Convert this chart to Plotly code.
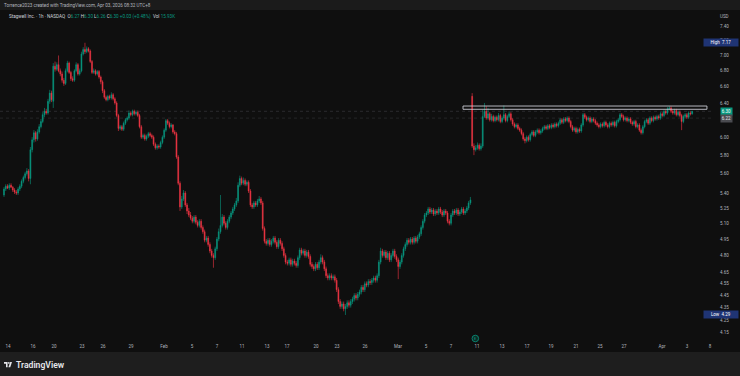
import math
import plotly.graph_objects as go

# ---------------- data (1h candles, Stagwell Inc., NASDAQ) ----------------
opens = [
    5.38, 5.44, 5.47, 5.45, 5.48, 5.46, 5.43,
    5.41, 5.40, 5.44, 5.47, 5.52, 5.56, 5.60,
    5.63, 5.55, 5.86, 5.97, 6.05, 5.98, 6.06,
    6.12, 6.18, 6.26, 6.30, 6.28, 6.42, 6.52,
    6.42, 6.86, 6.82, 6.88, 6.80, 6.76, 6.68,
    6.64, 6.80, 6.90, 6.78, 6.70, 6.68, 6.80,
    6.88, 6.76, 6.80, 7.02, 7.08, 7.05, 7.09,
    7.06, 6.92, 6.78, 6.80, 6.76, 6.79, 6.72,
    6.66, 6.55, 6.47, 6.44, 6.48, 6.46, 6.50,
    6.45, 6.40, 6.25, 6.10, 6.12, 6.09, 6.16,
    6.20, 6.22, 6.28, 6.26, 6.30, 6.27, 6.29,
    6.25, 6.12, 6.00, 6.02, 5.98, 6.01, 6.04,
    6.02, 6.00, 5.92, 5.88, 5.90, 5.89, 5.94,
    6.00, 6.08, 6.19, 6.16, 6.12, 6.14, 6.06,
    6.04, 5.78, 5.50, 5.26, 5.34, 5.40, 5.28,
    5.22, 5.18, 5.15, 5.12, 5.16, 5.11, 5.08,
    5.12, 5.06, 5.02, 4.94, 4.96, 4.90, 4.84,
    4.80, 4.78, 4.86, 4.95, 5.02, 5.08, 5.16,
    5.10, 5.06, 5.12, 5.16, 5.20, 5.24, 5.28,
    5.32, 5.48, 5.55, 5.50, 5.53, 5.49, 5.51,
    5.42, 5.28, 5.26, 5.30, 5.28, 5.32, 5.34,
    5.30, 5.05, 4.93, 4.91, 4.94, 4.90, 4.93,
    4.96, 4.92, 4.88, 4.94, 4.91, 4.86, 4.80,
    4.74, 4.73, 4.76, 4.72, 4.75, 4.73, 4.71,
    4.78, 4.85, 4.82, 4.84, 4.80, 4.83, 4.79,
    4.72, 4.70, 4.68, 4.72, 4.69, 4.74, 4.78,
    4.74, 4.68, 4.62, 4.60, 4.62, 4.60, 4.61,
    4.58, 4.50, 4.40, 4.36, 4.38, 4.34, 4.36,
    4.39, 4.37, 4.40, 4.42, 4.45, 4.43, 4.46,
    4.48, 4.52, 4.50, 4.55, 4.54, 4.57, 4.56,
    4.58, 4.60, 4.58, 4.62, 4.74, 4.84, 4.80,
    4.83, 4.78, 4.82, 4.76, 4.80, 4.84, 4.79,
    4.76, 4.70, 4.74, 4.80, 4.86, 4.90, 4.94,
    4.92, 4.95, 4.92, 4.96, 4.93, 4.97, 5.00,
    5.06, 5.12, 5.18, 5.20, 5.24, 5.21, 5.23,
    5.19, 5.22, 5.20, 5.24, 5.21, 5.18, 5.22,
    5.20, 5.12, 5.10, 5.18, 5.22, 5.20, 5.23,
    5.19, 5.21, 5.24, 5.20, 5.22, 5.25, 5.30,
    6.48, 5.90, 5.86, 5.88, 5.91, 5.87, 5.90,
    6.24, 6.30, 6.22, 6.27, 6.20, 6.24, 6.19,
    6.23, 6.20, 6.25, 6.18, 6.22, 6.26, 6.19,
    6.24, 6.27, 6.20, 6.15, 6.12, 6.14, 6.10,
    6.08, 6.04, 5.98, 5.96, 6.00, 5.97, 6.03,
    6.06, 6.02, 6.06, 6.08, 6.05, 6.07, 6.10,
    6.12, 6.10, 6.13, 6.11, 6.14, 6.12, 6.15,
    6.13, 6.16, 6.20, 6.17, 6.21, 6.19, 6.22,
    6.18, 6.12, 6.08, 6.10, 6.06, 6.09, 6.07,
    6.14, 6.26, 6.23, 6.20, 6.22, 6.18, 6.21,
    6.19, 6.16, 6.14, 6.12, 6.15, 6.13, 6.17,
    6.14, 6.12, 6.16, 6.14, 6.17, 6.13, 6.18,
    6.20, 6.26, 6.24, 6.20, 6.22, 6.19, 6.21,
    6.17, 6.15, 6.18, 6.12, 6.14, 6.08, 6.05,
    6.12, 6.18, 6.20, 6.16, 6.22, 6.19, 6.23,
    6.21, 6.24, 6.22, 6.27, 6.25, 6.30, 6.28,
    6.33, 6.34, 6.30, 6.28, 6.31, 6.26, 6.29,
    6.25, 6.18, 6.24, 6.26, 6.23, 6.28, 6.27,
]
highs = [
    5.46, 5.49, 5.49, 5.50, 5.50, 5.47, 5.45,
    5.43, 5.46, 5.49, 5.54, 5.58, 5.62, 5.66,
    5.65, 5.89, 6.00, 6.08, 6.07, 6.09, 6.15,
    6.21, 6.29, 6.34, 6.33, 6.45, 6.56, 6.55,
    6.90, 6.92, 6.91, 7.00, 6.83, 6.79, 6.71,
    6.83, 6.93, 6.92, 6.80, 6.73, 6.82, 6.91,
    6.90, 6.83, 7.05, 7.11, 7.17, 7.12, 7.11,
    7.08, 6.94, 6.83, 6.82, 6.81, 6.81, 6.74,
    6.68, 6.57, 6.49, 6.50, 6.50, 6.53, 6.52,
    6.47, 6.42, 6.27, 6.14, 6.14, 6.18, 6.22,
    6.24, 6.31, 6.30, 6.32, 6.32, 6.31, 6.31,
    6.27, 6.14, 6.04, 6.04, 6.03, 6.06, 6.06,
    6.04, 6.02, 5.94, 5.92, 5.92, 5.96, 6.02,
    6.10, 6.21, 6.21, 6.18, 6.16, 6.15, 6.08,
    6.06, 5.80, 5.52, 5.37, 5.43, 5.42, 5.30,
    5.25, 5.21, 5.17, 5.18, 5.18, 5.13, 5.14,
    5.14, 5.08, 5.04, 4.98, 4.98, 4.92, 4.86,
    4.82, 4.88, 4.97, 5.05, 5.38, 5.19, 5.18,
    5.12, 5.14, 5.18, 5.22, 5.26, 5.30, 5.35,
    5.51, 5.58, 5.57, 5.56, 5.55, 5.53, 5.53,
    5.44, 5.30, 5.32, 5.32, 5.34, 5.37, 5.36,
    5.32, 5.07, 4.95, 4.96, 4.96, 4.95, 4.98,
    4.98, 4.94, 4.96, 4.96, 4.93, 4.88, 4.82,
    4.76, 4.78, 4.78, 4.77, 4.77, 4.75, 4.80,
    4.87, 4.87, 4.86, 4.86, 4.85, 4.85, 4.81,
    4.74, 4.72, 4.74, 4.74, 4.76, 4.81, 4.80,
    4.76, 4.70, 4.64, 4.64, 4.64, 4.63, 4.63,
    4.60, 4.52, 4.42, 4.40, 4.40, 4.38, 4.41,
    4.41, 4.42, 4.44, 4.47, 4.47, 4.48, 4.50,
    4.54, 4.54, 4.57, 4.57, 4.59, 4.59, 4.60,
    4.62, 4.62, 4.64, 4.76, 4.87, 4.86, 4.85,
    4.85, 4.84, 4.84, 4.82, 4.86, 4.86, 4.81,
    4.78, 4.76, 4.82, 4.88, 4.92, 4.96, 4.96,
    4.97, 4.97, 4.98, 4.98, 4.99, 5.02, 5.08,
    5.14, 5.20, 5.22, 5.26, 5.26, 5.25, 5.25,
    5.24, 5.24, 5.26, 5.26, 5.23, 5.24, 5.24,
    5.22, 5.14, 5.20, 5.24, 5.24, 5.25, 5.25,
    5.23, 5.26, 5.26, 5.24, 5.27, 5.32, 5.36,
    6.52, 5.93, 5.91, 5.94, 5.93, 5.93, 6.32,
    6.40, 6.36, 6.34, 6.29, 6.27, 6.26, 6.25,
    6.25, 6.28, 6.27, 6.24, 6.37, 6.28, 6.26,
    6.30, 6.29, 6.22, 6.17, 6.16, 6.16, 6.12,
    6.10, 6.06, 6.00, 6.02, 6.02, 6.05, 6.08,
    6.08, 6.08, 6.10, 6.10, 6.09, 6.12, 6.14,
    6.14, 6.15, 6.15, 6.16, 6.16, 6.17, 6.17,
    6.18, 6.22, 6.22, 6.23, 6.23, 6.24, 6.24,
    6.20, 6.14, 6.12, 6.12, 6.11, 6.11, 6.16,
    6.28, 6.28, 6.25, 6.24, 6.24, 6.23, 6.23,
    6.21, 6.18, 6.16, 6.17, 6.17, 6.19, 6.19,
    6.16, 6.18, 6.18, 6.19, 6.19, 6.20, 6.22,
    6.28, 6.28, 6.26, 6.24, 6.24, 6.23, 6.23,
    6.19, 6.20, 6.20, 6.16, 6.16, 6.10, 6.14,
    6.20, 6.22, 6.22, 6.24, 6.24, 6.25, 6.25,
    6.26, 6.26, 6.29, 6.29, 6.32, 6.32, 6.35,
    6.36, 6.36, 6.32, 6.33, 6.33, 6.31, 6.31,
    6.27, 6.26, 6.28, 6.28, 6.30, 6.30, 6.30,
]
lows = [
    5.36, 5.42, 5.44, 5.43, 5.45, 5.41, 5.39,
    5.38, 5.38, 5.42, 5.45, 5.50, 5.54, 5.58,
    5.52, 5.49, 5.83, 5.94, 5.95, 5.96, 6.04,
    6.10, 6.16, 6.23, 6.26, 6.26, 6.39, 6.41,
    6.34, 6.79, 6.80, 6.78, 6.73, 6.65, 6.61,
    6.62, 6.78, 6.76, 6.67, 6.66, 6.66, 6.78,
    6.74, 6.74, 6.78, 7.00, 7.02, 7.03, 7.04,
    6.90, 6.76, 6.76, 6.74, 6.74, 6.70, 6.63,
    6.52, 6.45, 6.42, 6.42, 6.44, 6.44, 6.43,
    6.38, 6.23, 6.07, 6.08, 6.07, 6.07, 6.14,
    6.18, 6.20, 6.24, 6.24, 6.25, 6.25, 6.23,
    6.10, 5.98, 5.98, 5.96, 5.96, 5.99, 6.00,
    5.98, 5.90, 5.86, 5.86, 5.87, 5.87, 5.92,
    5.98, 6.06, 6.14, 6.10, 6.10, 6.04, 6.02,
    5.76, 5.48, 5.22, 5.24, 5.32, 5.26, 5.19,
    5.16, 5.13, 5.10, 5.10, 5.09, 5.06, 5.06,
    5.04, 5.00, 4.92, 4.92, 4.88, 4.82, 4.78,
    4.69, 4.76, 4.84, 4.93, 5.00, 5.06, 5.08,
    5.04, 5.04, 5.10, 5.14, 5.18, 5.22, 5.26,
    5.30, 5.46, 5.48, 5.48, 5.47, 5.47, 5.40,
    5.26, 5.24, 5.24, 5.26, 5.26, 5.30, 5.28,
    5.03, 4.91, 4.89, 4.89, 4.88, 4.88, 4.91,
    4.90, 4.86, 4.86, 4.89, 4.84, 4.78, 4.72,
    4.71, 4.71, 4.70, 4.70, 4.71, 4.69, 4.69,
    4.76, 4.80, 4.80, 4.78, 4.78, 4.77, 4.70,
    4.68, 4.66, 4.66, 4.67, 4.67, 4.72, 4.72,
    4.66, 4.60, 4.58, 4.58, 4.58, 4.58, 4.56,
    4.48, 4.38, 4.34, 4.34, 4.32, 4.29, 4.34,
    4.35, 4.35, 4.38, 4.40, 4.41, 4.41, 4.44,
    4.46, 4.48, 4.48, 4.52, 4.52, 4.54, 4.54,
    4.56, 4.56, 4.56, 4.60, 4.72, 4.78, 4.78,
    4.76, 4.76, 4.74, 4.74, 4.78, 4.77, 4.74,
    4.59, 4.68, 4.72, 4.78, 4.84, 4.88, 4.90,
    4.90, 4.90, 4.90, 4.91, 4.91, 4.95, 4.98,
    5.04, 5.10, 5.16, 5.18, 5.19, 5.19, 5.17,
    5.17, 5.18, 5.18, 5.19, 5.16, 5.16, 5.18,
    5.10, 5.08, 5.08, 5.16, 5.18, 5.18, 5.17,
    5.17, 5.19, 5.18, 5.18, 5.20, 5.23, 5.28,
    5.88, 5.80, 5.84, 5.86, 5.85, 5.85, 5.88,
    6.22, 6.20, 6.20, 6.18, 6.18, 6.17, 6.17,
    6.18, 6.18, 6.16, 6.16, 6.20, 6.17, 6.17,
    6.22, 6.18, 6.13, 6.10, 6.10, 6.08, 6.06,
    6.02, 5.96, 5.93, 5.94, 5.95, 5.95, 6.01,
    6.00, 6.00, 6.04, 6.03, 6.03, 6.05, 6.08,
    6.08, 6.08, 6.09, 6.09, 6.10, 6.10, 6.11,
    6.11, 6.14, 6.15, 6.15, 6.17, 6.17, 6.16,
    6.10, 6.06, 6.06, 6.04, 6.04, 6.05, 6.05,
    6.12, 6.21, 6.18, 6.18, 6.16, 6.16, 6.17,
    6.14, 6.12, 6.10, 6.10, 6.11, 6.11, 6.12,
    6.10, 6.10, 6.12, 6.12, 6.11, 6.11, 6.16,
    6.18, 6.22, 6.18, 6.18, 6.17, 6.17, 6.15,
    6.13, 6.13, 6.10, 6.10, 6.06, 6.03, 6.03,
    6.10, 6.16, 6.14, 6.14, 6.17, 6.17, 6.19,
    6.19, 6.20, 6.20, 6.23, 6.23, 6.26, 6.26,
    6.31, 6.28, 6.26, 6.26, 6.24, 6.24, 6.23,
    6.08, 6.16, 6.22, 6.21, 6.21, 6.25, 6.26,
]
closes = [
    5.44, 5.47, 5.45, 5.48, 5.46, 5.43, 5.41,
    5.40, 5.44, 5.47, 5.52, 5.56, 5.60, 5.63,
    5.55, 5.86, 5.97, 6.05, 5.98, 6.06, 6.12,
    6.18, 6.26, 6.30, 6.28, 6.42, 6.52, 6.44,
    6.86, 6.82, 6.88, 6.80, 6.76, 6.68, 6.64,
    6.80, 6.90, 6.78, 6.70, 6.68, 6.80, 6.88,
    6.76, 6.80, 7.02, 7.08, 7.05, 7.09, 7.06,
    6.92, 6.78, 6.80, 6.76, 6.79, 6.72, 6.66,
    6.55, 6.47, 6.44, 6.48, 6.46, 6.50, 6.45,
    6.40, 6.25, 6.10, 6.12, 6.09, 6.16, 6.20,
    6.22, 6.28, 6.26, 6.30, 6.27, 6.29, 6.25,
    6.12, 6.00, 6.02, 5.98, 6.01, 6.04, 6.02,
    6.00, 5.92, 5.88, 5.90, 5.89, 5.94, 6.00,
    6.08, 6.19, 6.16, 6.12, 6.14, 6.06, 6.04,
    5.78, 5.50, 5.26, 5.34, 5.40, 5.28, 5.22,
    5.18, 5.15, 5.12, 5.16, 5.11, 5.08, 5.12,
    5.06, 5.02, 4.94, 4.96, 4.90, 4.84, 4.80,
    4.78, 4.86, 4.95, 5.02, 5.08, 5.16, 5.10,
    5.06, 5.12, 5.16, 5.20, 5.24, 5.28, 5.32,
    5.48, 5.55, 5.50, 5.53, 5.49, 5.51, 5.42,
    5.28, 5.26, 5.30, 5.28, 5.32, 5.34, 5.30,
    5.05, 4.93, 4.91, 4.94, 4.90, 4.93, 4.96,
    4.92, 4.88, 4.94, 4.91, 4.86, 4.80, 4.74,
    4.73, 4.76, 4.72, 4.75, 4.73, 4.71, 4.78,
    4.85, 4.82, 4.84, 4.80, 4.83, 4.79, 4.72,
    4.70, 4.68, 4.72, 4.69, 4.74, 4.78, 4.74,
    4.68, 4.62, 4.60, 4.62, 4.60, 4.61, 4.58,
    4.50, 4.40, 4.36, 4.38, 4.34, 4.36, 4.39,
    4.37, 4.40, 4.42, 4.45, 4.43, 4.46, 4.48,
    4.52, 4.50, 4.55, 4.54, 4.57, 4.56, 4.58,
    4.60, 4.58, 4.62, 4.74, 4.84, 4.80, 4.83,
    4.78, 4.82, 4.76, 4.80, 4.84, 4.79, 4.76,
    4.70, 4.74, 4.80, 4.86, 4.90, 4.94, 4.92,
    4.95, 4.92, 4.96, 4.93, 4.97, 5.00, 5.06,
    5.12, 5.18, 5.20, 5.24, 5.21, 5.23, 5.19,
    5.22, 5.20, 5.24, 5.21, 5.18, 5.22, 5.20,
    5.12, 5.10, 5.18, 5.22, 5.20, 5.23, 5.19,
    5.21, 5.24, 5.20, 5.22, 5.25, 5.30, 5.33,
    5.90, 5.86, 5.88, 5.91, 5.87, 5.90, 6.24,
    6.30, 6.22, 6.27, 6.20, 6.24, 6.19, 6.23,
    6.20, 6.25, 6.18, 6.22, 6.26, 6.19, 6.24,
    6.27, 6.20, 6.15, 6.12, 6.14, 6.10, 6.08,
    6.04, 5.98, 5.96, 6.00, 5.97, 6.03, 6.06,
    6.02, 6.06, 6.08, 6.05, 6.07, 6.10, 6.12,
    6.10, 6.13, 6.11, 6.14, 6.12, 6.15, 6.13,
    6.16, 6.20, 6.17, 6.21, 6.19, 6.22, 6.18,
    6.12, 6.08, 6.10, 6.06, 6.09, 6.07, 6.14,
    6.26, 6.23, 6.20, 6.22, 6.18, 6.21, 6.19,
    6.16, 6.14, 6.12, 6.15, 6.13, 6.17, 6.14,
    6.12, 6.16, 6.14, 6.17, 6.13, 6.18, 6.20,
    6.26, 6.24, 6.20, 6.22, 6.19, 6.21, 6.17,
    6.15, 6.18, 6.12, 6.14, 6.08, 6.05, 6.12,
    6.18, 6.20, 6.16, 6.22, 6.19, 6.23, 6.21,
    6.24, 6.22, 6.27, 6.25, 6.30, 6.28, 6.33,
    6.34, 6.30, 6.28, 6.31, 6.26, 6.29, 6.25,
    6.18, 6.24, 6.26, 6.23, 6.28, 6.27, 6.30,
]

# time-axis labels and the bar index at which each sits
time_tick_labels = ["14", "16", "20", "23", "26", "29", "Feb", "5", "7", "11", "13", "17", "20", "23",
                    "26", "Mar", "5", "7", "11", "13", "17", "19", "21", "25", "27", "Apr", "3", "8"]
time_tick_bars = [2.3, 16.5, 28.4, 44.3, 56.3, 72.2, 90.9, 106.8, 121.0, 135.2, 149.4, 160.8, 177.3, 189.2,
                  205.1, 223.9, 239.8, 254.0, 268.8, 283.0, 297.2, 310.8, 325.0, 338.6, 352.3, 373.9, 388.1, 401.1]

# price-scale labels
price_tick_values = [7.40, 7.20, 7.00, 6.80, 6.60, 6.40, 6.00, 5.80, 5.60, 5.40, 5.25, 5.10,
                     4.95, 4.80, 4.65, 4.55, 4.45, 4.35, 4.25, 4.15]

last_price = 6.30
second_price = 6.22
session_high = 7.17
session_low = 4.29
zone_bars = [260.8, 399.4]
zone_prices = [6.324, 6.363]
earnings_bar = 267.8

header_line1 = "Torrence2023 created with TradingView.com, Apr 03, 2026 08:32 UTC+8"
symbol_title = "Stagwell Inc. · 1h · NASDAQ"
ohlc_values = ["6.27", "6.30", "6.26", "6.30"]
change_text = "+0.03 (+0.48%)"
volume_text = "15.93K"

# ---------------- styling / layout ----------------
W, H = 740, 376
ML, MR, MT, MB = 0, 28, 10, 38
PW, PH = W - ML - MR, H - MT - MB
UP, DN = "#089981", "#f23645"
BG = "#0f0f0f"
TXT = "#b2b5be"
FONT = "Roboto, Arial, sans-serif"


def fx(px):
    return (px - ML) / PW


def fy(py):
    return (H - MB - py) / PH


y_bottom, y_top = 4.1075, 7.627

fig = go.Figure()
fig.add_trace(go.Candlestick(
    x=list(range(len(closes))), open=opens, high=highs, low=lows, close=closes,
    increasing=dict(line=dict(color=UP, width=0.6), fillcolor=UP),
    decreasing=dict(line=dict(color=DN, width=0.6), fillcolor=DN),
    whiskerwidth=0, hoverinfo="skip", showlegend=False,
))

shapes = []
# price lines (shape coordinates on the log axis are given as prices)
for p, col in [(last_price, "rgba(120,123,134,0.38)"), (second_price, "rgba(120,123,134,0.3)")]:
    shapes.append(dict(type="line", xref="paper", yref="y", x0=0, x1=1, y0=p, y1=p,
                       line=dict(color=col, width=0.7, dash="dot"), layer="below"))
# drawn rectangle zone
shapes.append(dict(type="rect", xref="x", yref="y", x0=zone_bars[0], x1=zone_bars[1],
                   y0=zone_prices[0], y1=zone_prices[1],
                   line=dict(color="#c9cbd2", width=0.9), fillcolor="rgba(0,0,0,0)"))
# header band and footer band
shapes.append(dict(type="rect", xref="paper", yref="paper", x0=fx(0), x1=fx(W), y0=fy(10), y1=fy(0),
                   fillcolor="#1b1b1b", line=dict(width=0), layer="below"))
shapes.append(dict(type="rect", xref="paper", yref="paper", x0=fx(0), x1=fx(W), y0=fy(H), y1=fy(352),
                   fillcolor="#1e1e1e", line=dict(width=0)))


def ppath(points):
    return "M " + " L ".join(f"{fx(a):.5f},{fy(b):.5f}" for a, b in points) + " Z"


# TradingView logo
shapes.append(dict(type="path", xref="paper", yref="paper",
                   path=ppath([(4, 362), (7.6, 362), (7.6, 367.3), (6, 367.3), (6, 363.7), (4, 363.7)]),
                   fillcolor="#e6e7eb", line=dict(width=0)))
shapes.append(dict(type="circle", xref="paper", yref="paper",
                   x0=fx(8.0), x1=fx(9.7), y0=fy(363.8), y1=fy(362.1),
                   fillcolor="#e6e7eb", line=dict(width=0)))
shapes.append(dict(type="path", xref="paper", yref="paper",
                   path=ppath([(10.2, 362), (12.0, 362), (10.2, 367.3), (8.4, 367.3)]),
                   fillcolor="#e6e7eb", line=dict(width=0)))
# earnings marker
ex = 4 + earnings_bar * 1.76
shapes.append(dict(type="circle", xref="paper", yref="paper",
                   x0=fx(ex - 3.3), x1=fx(ex + 3.3), y0=fy(341.8), y1=fy(335.2),
                   fillcolor="#0c2b25", line=dict(color=UP, width=0.8)))

annotations = []
annotations.append(dict(xref="paper", yref="paper", x=fx(2), y=fy(5), xanchor="left", yanchor="middle",
                        text=header_line1, showarrow=False, font=dict(size=4.6, color=TXT, family=FONT)))
g = lambda s: f"<span style='color:{UP}'>{s}</span>"
line2 = (f"{symbol_title}&nbsp;&nbsp;O{g(ohlc_values[0])}&nbsp;H{g(ohlc_values[1])}&nbsp;L{g(ohlc_values[2])}"
         f"&nbsp;C{g(ohlc_values[3])}&nbsp;{g(change_text)}&nbsp;&nbsp;Vol&nbsp;{g(volume_text)}")
annotations.append(dict(xref="paper", yref="paper", x=fx(7), y=fy(16), xanchor="left", yanchor="middle",
                        text=line2, showarrow=False, font=dict(size=4.6, color="#d1d4dc", family=FONT)))
annotations.append(dict(xref="paper", yref="paper", x=fx(724), y=fy(16), xanchor="center", yanchor="middle",
                        text="USD", showarrow=False, font=dict(size=4.5, color=TXT, family=FONT)))
# price tags
annotations.append(dict(xref="paper", yref="y", x=fx(726), y=math.log10(last_price), xanchor="center",
                        yanchor="middle", text=f"{last_price:.2f}", showarrow=False, bgcolor=UP, borderpad=0.8,
                        font=dict(size=4.5, color="#ffffff", family=FONT)))
annotations.append(dict(xref="paper", yref="y", x=fx(726), y=math.log10(second_price), xanchor="center",
                        yanchor="middle", text=f"{second_price:.2f}", showarrow=False, bgcolor="#4a4b50",
                        borderpad=0.8, font=dict(size=4.5, color="#e0e3eb", family=FONT)))
for val, name in [(session_high, "High"), (session_low, "Low")]:
    annotations.append(dict(xref="paper", yref="y", x=fx(721.5), y=math.log10(val), xanchor="center",
                            yanchor="middle", text=f"{name}&nbsp;&nbsp;{val:.2f}", showarrow=False,
                            bgcolor="#1f3474", borderpad=0.8, width=32,
                            font=dict(size=4.5, color="#ffffff", family=FONT)))
annotations.append(dict(xref="paper", yref="paper", x=fx(ex), y=fy(338.5), xanchor="center", yanchor="middle",
                        text="E", showarrow=False, font=dict(size=3.6, color=UP, family=FONT)))
annotations.append(dict(xref="paper", yref="paper", x=fx(14), y=fy(364.5), xanchor="left", yanchor="middle",
                        text="TradingView", showarrow=False,
                        font=dict(size=8.6, color="#e6e7eb", family=FONT, weight=600)))

fig.update_layout(
    width=W, height=H,
    margin=dict(l=ML, r=MR, t=MT, b=MB, pad=0),
    paper_bgcolor=BG, plot_bgcolor=BG,
    showlegend=False,
    shapes=shapes, annotations=annotations,
    xaxis=dict(range=[-2.27, 402.27], rangeslider=dict(visible=False), showgrid=False, zeroline=False,
               showline=False, tickmode="array", tickvals=time_tick_bars, ticktext=time_tick_labels,
               ticks="", ticklabelstandoff=4, tickfont=dict(size=4.5, color=TXT, family=FONT),
               fixedrange=True),
    yaxis=dict(type="log", side="right", range=[math.log10(y_bottom), math.log10(y_top)],
               showgrid=False, zeroline=False, showline=False, tickmode="array",
               tickvals=price_tick_values, ticktext=[f"{v:.2f}" for v in price_tick_values],
               ticks="", ticklabelstandoff=7, tickfont=dict(size=4.5, color=TXT, family=FONT),
               fixedrange=True),
)

fig.write_html("out.html", config={"displayModeBar": False, "staticPlot": True},
               post_script="document.body.style.margin='0';document.body.style.background='#0f0f0f';")
